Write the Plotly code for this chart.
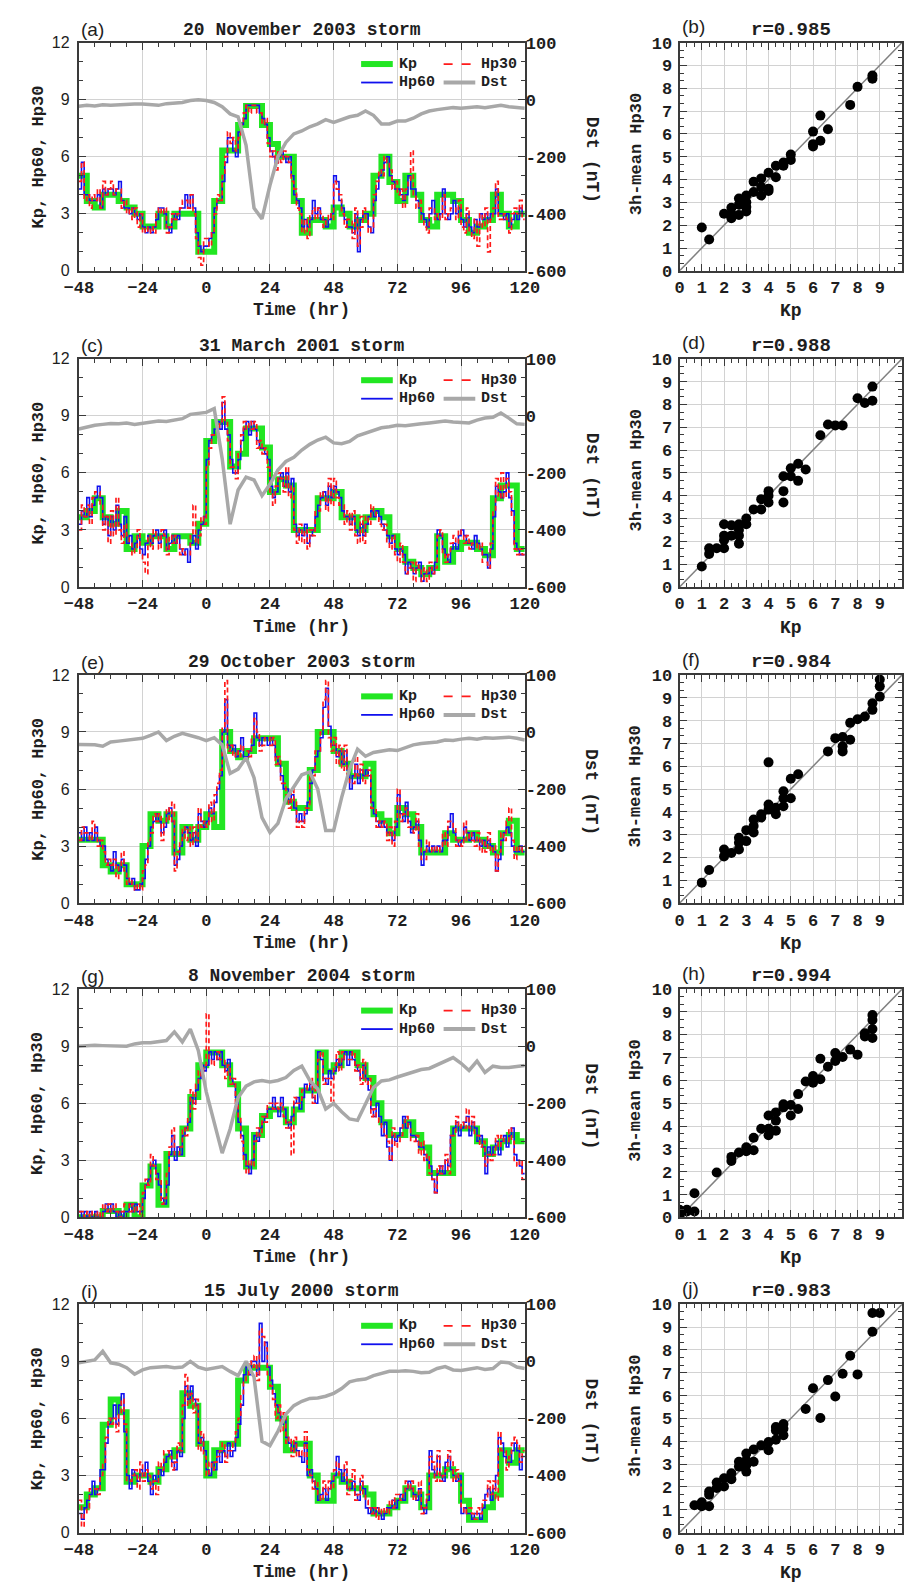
import plotly.graph_objects as go

# ---------------- data ----------------
STORM_TITLES = ["20 November 2003 storm", "31 March 2001 storm", "29 October 2003 storm",
                "8 November 2004 storm", "15 July 2000 storm"]
LEFT_LABELS = ["(a)", "(c)", "(e)", "(g)", "(i)"]
RIGHT_LABELS = ["(b)", "(d)", "(f)", "(h)", "(j)"]
R_TEXTS = ["r=0.985", "r=0.988", "r=0.984", "r=0.994", "r=0.983"]

T_START = -48          # hours
KP_DT, HP60_DT, HP30_DT, DST_DT = 3, 1, 1, 3

X_TICK0, X_DTICK, X_MINOR = -48, 24, 6
X_RANGE = [-48, 120]
KP_RANGE, KP_DTICK = [0, 12], 3
DST_RANGE = [-600, 200]
DST_TICKVALS = [-600, -400, -200, 0, 200]
DST_TICKTEXT = ["-600", "-400", "-200", "0", "100"]
SC_RANGE = [0, 10]
SC_XTICKVALS = [0, 1, 2, 3, 4, 5, 6, 7, 8, 9]
SC_YTICKVALS = [0, 1, 2, 3, 4, 5, 6, 7, 8, 9, 10]

# ---- panel (a)/(b): 20 November 2003 ----
KP_A = [5.0, 3.67, 3.33, 4.0, 4.0, 3.67, 3.33, 3.0, 2.33, 2.33, 3.0, 2.33, 3.0, 3.0, 3.0, 1.0, 1.0, 3.67,
        6.33, 6.33, 7.67, 8.67, 8.67, 7.67, 6.67, 6.0, 6.0, 3.67, 2.0, 2.67, 2.67, 2.33, 3.33, 3.0, 2.33,
        2.67, 3.0, 5.0, 6.0, 4.67, 3.67, 5.0, 4.0, 2.67, 2.33, 4.0, 4.0, 3.67, 2.67, 2.0, 2.33, 2.67, 4.0,
        3.0, 2.33, 3.0]
HP60_A = [4.3, 5.7, 4.0, 4.0, 3.7, 3.7, 3.7, 4.0, 3.3, 4.3, 4.0, 4.3, 4.3, 4.0, 4.3, 4.7, 3.7, 3.3, 3.3, 3.0, 3.3, 3.0, 2.7, 3.0,
          2.3, 2.0, 2.3, 2.0, 2.3, 2.7, 3.3, 3.3, 3.0, 2.3, 2.0, 2.7, 3.0, 2.7, 3.3, 3.3, 4.0, 3.3, 4.0, 3.3, 2.0, 1.3, 1.0, 1.3,
          1.3, 1.7, 2.0, 3.3, 3.7, 3.7, 4.7, 5.7, 7.0, 7.0, 6.3, 6.0, 7.3, 7.7, 8.0, 8.7, 8.7, 8.7, 8.7, 8.7, 8.3, 8.0, 7.7, 7.0,
          6.3, 6.0, 5.7, 6.0, 6.3, 6.0, 5.7, 6.0, 5.0, 4.0, 3.7, 3.3, 2.3, 2.7, 2.3, 2.7, 3.7, 3.0, 3.3, 2.7, 2.7, 2.3, 2.7, 3.0,
          5.0, 4.7, 3.7, 3.3, 2.7, 2.3, 2.3, 2.0, 3.0, 1.0, 2.7, 3.0, 3.0, 2.3, 2.0, 3.7, 4.3, 5.0, 5.3, 5.7, 6.0, 5.0, 4.7, 4.3,
          4.3, 4.0, 3.7, 4.0, 5.0, 4.3, 4.3, 3.7, 3.3, 3.0, 2.7, 2.3, 3.0, 3.7, 3.0, 2.7, 3.0, 4.3, 3.0, 2.7, 3.0, 3.7, 3.0, 3.3,
          2.7, 2.3, 3.0, 2.3, 2.0, 2.7, 2.3, 3.0, 2.7, 3.0, 2.7, 3.0, 3.0, 4.3, 3.0, 3.0, 2.7, 3.0, 2.3, 2.7, 3.0, 2.7, 3.3, 3.0]
HP30_A = [4.7, 5.7, 3.7, 4.0, 3.3, 4.0, 3.7, 4.3, 3.3, 4.7, 4.0, 4.3, 4.7, 4.0, 4.3, 4.3, 3.3, 3.7, 3.0, 3.3, 2.7, 3.3, 2.3, 3.0,
          2.0, 2.3, 2.0, 2.3, 2.0, 3.0, 3.3, 3.0, 3.3, 2.0, 2.3, 3.0, 2.7, 3.0, 3.3, 3.7, 3.7, 3.3, 4.0, 3.0, 1.7, 0.7, 0.3, 1.7,
          1.7, 1.3, 2.0, 3.0, 4.0, 3.7, 5.0, 6.0, 7.3, 6.7, 7.0, 6.3, 7.0, 7.7, 8.3, 8.7, 8.3, 8.7, 8.7, 8.3, 8.3, 7.7, 8.0, 6.7,
          6.0, 6.3, 5.3, 6.3, 5.7, 6.3, 6.0, 5.7, 4.7, 4.3, 3.3, 3.0, 2.0, 2.7, 1.7, 3.0, 3.3, 2.7, 3.3, 3.0, 2.3, 2.7, 3.0, 2.7,
          4.7, 4.3, 4.0, 3.0, 2.3, 2.7, 2.7, 1.7, 3.3, 1.3, 2.3, 3.3, 2.7, 2.0, 2.3, 4.0, 4.7, 5.3, 5.0, 6.0, 5.7, 5.3, 4.3, 4.7,
          4.0, 4.3, 3.3, 4.3, 4.7, 6.3, 4.0, 3.3, 3.7, 2.7, 2.3, 2.0, 3.3, 3.3, 2.7, 3.0, 2.7, 4.0, 2.7, 3.0, 3.3, 3.3, 2.7, 3.7,
          2.3, 2.0, 3.3, 2.0, 1.7, 2.7, 1.3, 3.0, 2.3, 3.3, 1.0, 2.7, 3.3, 4.7, 2.7, 2.7, 3.0, 2.7, 2.0, 3.0, 3.3, 3.0, 3.7, 2.7]
DST_A = [-23, -20, -22, -18, -20, -18, -15, -15, -15, -18, -20, -14, -12, -10, -3, 0, -3, -10, -25, -50,
         -60, -160, -380, -418, -300, -200, -150, -120, -110, -95, -85, -70, -80, -70, -60, -55, -40, -55,
         -85, -85, -75, -75, -65, -50, -40, -35, -30, -28, -30, -28, -25, -28, -25, -20, -25, -28, -30]
SCX_B = [1.0, 1.33, 2.0, 2.33, 2.33, 2.33, 2.67, 2.67, 2.67, 3.0, 3.0, 3.0, 3.0, 3.33, 3.33, 3.67, 3.67, 3.67,
         4.0, 4.0, 4.0, 4.33, 4.33, 4.67, 4.67, 5.0, 5.0, 6.0, 6.0, 6.0, 6.33, 6.33, 6.67, 7.67, 8.0, 8.67, 8.67]
SCY_B = [1.9, 1.37, 2.5, 2.76, 2.3, 2.5, 3.17, 2.9, 2.45, 3.3, 3.0, 2.8, 2.6, 3.9, 3.45, 4.05, 3.67, 3.3,
         4.3, 3.6, 3.5, 4.6, 4.1, 4.75, 4.6, 5.1, 4.86, 6.1, 5.55, 5.45, 6.8, 5.7, 6.2, 7.27, 8.06, 8.42, 8.56]

# ---- panel (c)/(d): 31 March 2001 ----
KP_C = [3.67, 4.0, 4.67, 3.67, 3.33, 4.0, 2.0, 2.67, 2.33, 2.67, 2.67, 2.0, 2.67, 2.67, 2.33, 3.33, 7.67,
        8.67, 8.67, 6.33, 7.0, 8.33, 8.33, 7.33, 5.0, 5.67, 5.33, 3.0, 3.0, 3.0, 4.67, 4.67, 5.0, 3.67, 3.67,
        3.0, 3.67, 4.0, 3.67, 2.67, 2.0, 1.33, 1.0, 0.67, 1.0, 2.67, 1.33, 2.0, 2.33, 2.33, 2.0, 1.67, 4.67,
        5.33, 5.33, 2.0]
HP60_C = [3.3, 4.0, 3.7, 4.7, 3.7, 4.3, 4.7, 5.3, 4.7, 3.3, 3.7, 2.7, 3.7, 3.0, 4.3, 3.3, 2.7, 3.7, 2.3, 2.7, 2.0, 2.3, 2.7, 2.0,
          1.7, 2.3, 2.7, 2.3, 2.7, 3.0, 2.3, 2.7, 3.0, 2.0, 2.3, 2.7, 2.3, 2.7, 2.0, 1.7, 2.0, 1.3, 2.3, 2.7, 2.0, 3.0, 3.3, 3.7,
          6.7, 7.7, 8.0, 8.3, 8.7, 8.3, 9.7, 8.3, 8.0, 6.7, 6.0, 6.0, 6.7, 7.7, 8.3, 8.7, 8.0, 8.7, 8.3, 7.7, 7.3, 7.3, 7.0, 6.7,
          5.3, 4.7, 5.0, 5.7, 6.0, 5.3, 6.0, 5.0, 5.7, 3.3, 2.7, 3.0, 2.7, 3.3, 2.3, 2.7, 3.0, 3.7, 4.3, 4.7, 5.0, 4.3, 5.3, 4.7,
          5.3, 5.0, 4.7, 4.0, 3.7, 3.7, 3.3, 3.7, 3.0, 2.7, 3.3, 2.7, 3.3, 3.7, 4.0, 3.7, 4.0, 3.7, 3.3, 3.0, 2.7, 2.3, 2.7, 2.0,
          1.7, 2.0, 1.7, 0.7, 1.3, 1.0, 0.7, 1.0, 1.3, 0.3, 0.7, 0.7, 1.0, 0.7, 1.3, 3.0, 2.7, 2.0, 1.7, 1.3, 2.0, 2.3, 2.0, 2.7,
          3.0, 2.7, 2.3, 2.3, 2.0, 2.7, 2.3, 2.0, 1.7, 1.7, 1.0, 2.0, 3.7, 5.3, 5.0, 4.7, 5.0, 6.0, 4.7, 4.0, 2.3, 2.0, 1.7, 1.7]
HP30_C = [3.0, 4.3, 3.7, 4.3, 3.3, 4.7, 5.0, 5.0, 4.3, 3.0, 3.7, 2.3, 4.0, 2.7, 4.7, 3.0, 2.3, 3.3, 2.7, 2.3, 1.7, 2.0, 3.0, 1.7,
          1.3, 0.7, 2.7, 2.0, 3.0, 2.7, 2.0, 3.0, 2.7, 1.7, 2.7, 2.3, 2.7, 2.3, 1.7, 2.0, 1.7, 1.7, 2.7, 4.3, 2.3, 2.7, 3.7, 3.3,
          6.3, 7.3, 8.0, 8.0, 8.3, 8.7, 10.0, 8.7, 7.7, 6.3, 6.3, 5.7, 7.0, 8.0, 8.7, 8.3, 8.7, 8.3, 8.7, 7.3, 7.7, 7.0, 7.3, 6.3,
          5.0, 4.3, 5.3, 6.0, 5.7, 5.0, 6.3, 4.7, 5.3, 3.0, 2.3, 3.3, 2.3, 3.0, 2.0, 3.0, 2.7, 4.0, 4.0, 5.0, 4.7, 4.0, 5.7, 4.3,
          5.7, 4.7, 4.3, 4.3, 3.3, 4.0, 3.0, 4.0, 2.7, 2.3, 3.7, 2.3, 3.7, 3.3, 4.3, 4.0, 3.7, 3.3, 3.0, 3.3, 2.3, 2.0, 2.7, 1.7,
          1.3, 2.3, 1.3, 0.7, 1.0, 1.3, 0.3, 1.3, 1.0, 0.3, 1.0, 0.3, 1.3, 0.7, 1.0, 2.7, 3.0, 1.7, 1.3, 1.7, 2.3, 2.7, 2.3, 3.0,
          2.7, 2.3, 2.7, 2.0, 2.3, 2.3, 2.0, 2.3, 1.3, 1.3, 1.0, 2.3, 4.0, 5.7, 4.7, 6.0, 4.7, 5.7, 5.0, 3.7, 2.0, 1.7, 2.0, 1.7]
DST_C = [-46, -38, -33, -30, -27, -28, -25, -30, -25, -20, -18, -20, -15, -10, 5, 8, 12, 25, -150, -380,
         -260, -215, -225, -280, -240, -190, -160, -145, -120, -100, -85, -75, -95, -98, -90, -70, -60, -50,
         -42, -38, -33, -35, -30, -28, -25, -22, -18, -22, -25, -25, -15, -8, -5, 10, -8, -28, -30]
SCX_D = [1.0, 1.33, 1.33, 1.67, 2.0, 2.0, 2.0, 2.0, 2.33, 2.33, 2.67, 2.67, 2.67, 2.67, 3.0, 3.0, 3.33, 3.67,
         3.67, 4.0, 4.0, 4.0, 4.67, 4.67, 4.67, 5.0, 5.0, 5.33, 5.33, 5.67, 6.33, 6.67, 7.0, 7.33, 8.0, 8.33,
         8.67, 8.67]
SCY_D = [0.9, 1.7, 1.45, 1.7, 2.75, 2.25, 1.7, 2.05, 2.7, 2.25, 2.5, 1.9, 2.75, 2.25, 3.0, 2.75, 3.4, 3.85,
         3.4, 4.2, 3.7, 4.0, 4.85, 4.2, 3.7, 5.2, 4.85, 5.4, 4.65, 5.15, 6.65, 7.12, 7.08, 7.08, 8.27, 8.06,
         8.16, 8.78]

# ---- panel (e)/(f): 29 October 2003 ----
KP_E = [3.33, 3.33, 3.33, 2.0, 1.67, 2.0, 1.0, 1.0, 3.0, 4.67, 4.33, 4.67, 2.67, 4.0, 3.33, 4.0, 4.67, 4.0,
        9.0, 8.0, 7.67, 8.0, 8.67, 8.67, 8.67, 7.33, 5.33, 5.0, 5.0, 7.0, 9.0, 9.0, 8.0, 7.33, 6.67, 6.67,
        7.33, 4.67, 4.33, 3.67, 5.0, 4.67, 4.0, 2.67, 2.67, 2.67, 3.67, 3.33, 3.33, 3.67, 3.33, 3.0, 2.67,
        3.67, 4.33, 2.67]
HP60_E = [3.7, 3.3, 4.0, 3.3, 3.7, 3.3, 4.0, 3.3, 3.0, 3.0, 2.3, 2.0, 1.7, 2.7, 2.0, 1.7, 2.3, 2.0, 1.3, 1.0, 1.3, 0.7, 0.7, 1.0,
          1.3, 2.3, 3.0, 4.0, 4.3, 4.7, 4.3, 3.7, 4.0, 4.7, 5.0, 4.3, 2.0, 2.3, 3.0, 3.7, 4.0, 3.7, 3.3, 3.7, 3.0, 4.7, 4.3, 4.0,
          4.3, 5.0, 4.7, 5.3, 6.0, 6.7, 9.0, 10.7, 8.3, 8.0, 8.3, 7.7, 8.0, 8.7, 7.7, 7.7, 8.0, 8.3, 10.0, 8.7, 8.3, 8.7, 8.7, 8.3,
          8.7, 8.3, 7.7, 7.3, 6.7, 6.0, 6.0, 5.3, 5.7, 5.0, 4.3, 4.7, 4.3, 4.7, 5.3, 6.3, 7.0, 7.7, 8.0, 8.7, 10.3, 11.3, 9.3, 8.3,
          8.3, 7.7, 8.0, 7.3, 8.0, 7.0, 6.0, 6.7, 7.3, 6.3, 7.0, 6.7, 7.0, 6.7, 5.3, 4.7, 4.3, 4.0, 4.3, 4.0, 3.7, 3.7, 3.3, 4.0,
          5.7, 4.7, 4.3, 5.3, 4.3, 3.7, 4.0, 4.3, 3.3, 2.0, 2.7, 3.0, 2.7, 3.0, 2.7, 3.0, 2.7, 3.3, 3.3, 4.0, 4.7, 3.7, 3.3, 3.0,
          3.3, 4.0, 3.7, 3.3, 3.7, 3.3, 3.3, 3.0, 3.3, 3.0, 3.3, 3.0, 2.7, 1.7, 2.3, 3.3, 3.7, 4.0, 3.7, 3.0, 2.7, 2.7, 3.0, 2.7]
HP30_E = [3.3, 4.0, 3.7, 3.7, 3.3, 4.3, 3.7, 3.0, 3.3, 2.7, 2.0, 2.3, 2.0, 2.3, 1.3, 2.0, 2.7, 1.7, 1.0, 1.3, 1.0, 0.7, 1.0, 0.7,
          1.7, 2.0, 3.3, 3.7, 4.7, 4.3, 4.7, 3.3, 4.3, 5.0, 4.3, 5.3, 1.7, 2.7, 3.3, 4.0, 3.3, 4.0, 3.0, 4.0, 3.3, 5.0, 4.0, 4.3,
          4.0, 5.3, 4.3, 5.7, 6.3, 7.0, 9.3, 11.7, 8.0, 8.3, 7.7, 8.0, 7.7, 8.3, 8.0, 8.0, 7.7, 8.7, 9.7, 9.0, 8.0, 8.3, 8.7, 8.7,
          8.3, 8.7, 7.3, 7.7, 6.3, 6.3, 5.7, 5.0, 6.0, 5.3, 4.0, 4.3, 4.0, 5.0, 5.0, 6.7, 6.7, 8.0, 8.0, 9.0, 10.7, 11.7, 8.7, 8.0,
          8.7, 7.3, 8.3, 7.0, 8.3, 6.7, 6.3, 6.3, 7.7, 6.7, 7.3, 6.3, 6.7, 7.0, 5.0, 5.0, 4.0, 4.3, 4.0, 4.3, 3.3, 4.0, 3.0, 4.3,
          6.0, 4.3, 4.7, 5.0, 4.0, 4.0, 3.7, 4.7, 3.0, 2.3, 2.3, 3.3, 3.0, 2.7, 3.0, 2.7, 3.0, 3.7, 3.0, 4.3, 4.3, 4.0, 3.0, 3.3,
          3.0, 4.3, 3.3, 3.7, 3.3, 3.0, 3.7, 2.7, 3.3, 2.7, 3.7, 2.7, 3.0, 1.7, 2.7, 3.7, 3.3, 4.3, 5.0, 3.3, 2.3, 3.0, 2.7, 3.0]
DST_E = [-44, -45, -45, -50, -35, -32, -28, -26, -22, -12, 0, -30, -15, -5, -12, -20, -30, -20, -45, -145,
         -130, -90, -160, -300, -352, -320, -235, -190, -150, -140, -200, -345, -345, -230, -130, -60, -85, -72,
         -68, -62, -65, -55, -45, -40, -38, -35, -28, -30, -25, -22, -25, -20, -22, -20, -18, -22, -28]
SCX_F = [1.0, 1.33, 2.0, 2.0, 2.33, 2.67, 2.67, 2.67, 3.0, 3.0, 3.33, 3.33, 3.33, 3.67, 3.67, 4.0, 4.0, 4.0,
         4.33, 4.33, 4.67, 4.67, 4.67, 5.0, 5.0, 5.33, 6.67, 7.0, 7.33, 7.33, 7.33, 7.67, 7.67, 8.0, 8.33, 8.67,
         8.67, 9.0, 9.0, 9.0]
SCY_F = [0.9, 1.45, 2.35, 2.05, 2.2, 2.87, 2.65, 2.35, 3.2, 2.72, 3.67, 3.38, 3.1, 3.9, 3.75, 4.32, 4.1, 6.17,
         3.9, 4.18, 4.9, 4.6, 4.25, 5.45, 4.6, 5.65, 6.65, 7.23, 7.28, 6.87, 6.65, 7.16, 7.9, 8.06, 8.18, 8.47,
         8.76, 9.05, 9.5, 9.8]

# ---- panel (g)/(h): 8 November 2004 ----
KP_G = [0.0, 0.0, 0.0, 0.33, 0.33, 0.0, 0.67, 0.0, 1.67, 2.67, 0.67, 3.33, 3.33, 4.67, 6.33, 8.0, 8.67, 8.67,
        8.0, 7.0, 4.67, 2.67, 4.33, 5.33, 5.67, 5.67, 5.0, 5.67, 6.67, 6.67, 8.67, 7.67, 8.0, 8.67, 8.67, 8.0,
        7.33, 6.0, 5.0, 4.33, 4.33, 5.0, 4.33, 3.67, 2.33, 2.33, 2.33, 4.67, 4.67, 4.67, 4.0, 3.33, 3.67, 4.0,
        4.33, 4.0]
HP60_G = [0.3, 0.0, 0.3, 0.0, 0.3, 0.0, 0.3, 0.0, 0.0, 0.3, 0.7, 0.3, 0.7, 0.3, 0.0, 0.3, 0.0, 0.3, 0.3, 0.7, 0.3, 0.7, 0.3, 0.3,
          1.0, 1.7, 2.0, 2.7, 3.0, 2.3, 1.7, 1.0, 0.7, 1.7, 3.3, 4.3, 3.0, 3.7, 3.3, 4.3, 4.7, 5.0, 6.3, 6.0, 6.7, 7.3, 8.0, 7.7,
          8.0, 8.7, 8.3, 8.7, 8.3, 8.7, 8.0, 7.7, 8.3, 7.3, 7.0, 6.3, 5.0, 4.3, 3.3, 2.7, 2.3, 3.0, 4.3, 4.0, 4.7, 5.0, 5.3, 5.7,
          5.7, 6.3, 5.7, 5.3, 6.3, 5.7, 5.0, 4.7, 5.3, 6.0, 6.3, 5.7, 6.3, 7.0, 6.7, 7.0, 6.3, 6.0, 8.7, 8.3, 7.3, 7.0, 7.7, 7.3,
          7.7, 8.3, 8.0, 8.3, 8.7, 8.0, 8.7, 8.3, 8.0, 7.7, 7.3, 8.0, 7.3, 6.7, 5.7, 5.3, 6.0, 5.3, 4.3, 5.0, 3.7, 3.0, 4.3, 4.0,
          4.3, 4.7, 5.3, 4.7, 5.0, 4.3, 4.3, 4.0, 3.7, 3.7, 3.3, 3.0, 2.7, 2.0, 1.3, 2.3, 2.7, 2.3, 3.0, 2.7, 4.3, 4.7, 5.0, 4.3,
          4.7, 5.0, 5.3, 4.3, 5.0, 4.7, 4.0, 4.3, 3.7, 2.3, 3.7, 3.3, 3.7, 4.0, 3.3, 4.0, 4.3, 3.7, 4.3, 4.7, 3.3, 3.0, 2.7, 2.3]
HP30_G = [0.3, 0.3, 0.0, 0.3, 0.0, 0.3, 0.0, 0.3, 0.0, 0.7, 0.3, 0.7, 0.3, 0.7, 0.3, 0.0, 0.3, 0.7, 0.7, 0.3, 0.7, 0.3, 0.7, 0.0,
          1.3, 2.0, 1.7, 3.3, 2.7, 2.0, 2.0, 0.7, 1.0, 2.3, 3.7, 4.7, 3.3, 3.3, 3.7, 4.7, 4.3, 5.3, 6.7, 5.7, 7.0, 7.7, 7.3, 8.0,
          10.7, 8.3, 8.0, 8.3, 8.7, 8.3, 8.3, 7.3, 8.0, 7.0, 7.3, 6.0, 5.3, 4.0, 3.0, 2.3, 3.0, 2.7, 4.0, 4.7, 4.3, 5.3, 5.0, 6.0,
          6.0, 5.7, 6.0, 5.7, 6.0, 5.3, 4.7, 5.0, 3.3, 6.3, 6.0, 6.0, 6.7, 6.7, 7.0, 7.3, 6.0, 6.7, 8.3, 8.7, 7.0, 7.3, 7.3, 6.0,
          8.0, 8.7, 7.7, 8.7, 8.3, 8.3, 8.3, 8.7, 7.7, 8.0, 7.0, 8.3, 7.0, 7.3, 5.3, 5.7, 5.3, 5.0, 4.7, 4.3, 4.0, 3.0, 4.7, 3.7,
          4.0, 4.3, 5.0, 5.3, 4.7, 4.0, 4.0, 4.3, 3.3, 4.0, 3.0, 3.3, 2.3, 2.0, 1.3, 2.7, 2.3, 2.7, 3.3, 2.3, 4.3, 4.3, 5.3, 4.7,
          5.0, 4.7, 5.7, 4.7, 5.3, 4.3, 4.3, 3.7, 4.0, 2.7, 3.3, 3.0, 3.3, 4.3, 3.7, 4.3, 4.0, 4.0, 4.7, 4.0, 3.0, 2.7, 3.0, 2.0]
DST_G = [0, 2, 3, 2, 2, 3, 0, 8, 12, 12, 15, 20, 50, 15, 60, -15, -160, -270, -375, -290, -180, -140, -125,
         -120, -125, -120, -110, -85, -70, -120, -150, -220, -200, -230, -255, -260, -200, -145, -122, -118,
         -108, -100, -92, -82, -78, -65, -55, -40, -60, -85, -52, -92, -70, -75, -75, -70, -68]
SCX_H = [0.0, 0.0, 0.0, 0.33, 0.33, 0.67, 0.67, 1.67, 2.33, 2.33, 2.67, 3.0, 3.0, 3.33, 3.33, 3.67, 4.0, 4.0,
         4.0, 4.33, 4.33, 4.33, 4.67, 4.67, 5.0, 5.0, 5.33, 5.33, 5.67, 6.0, 6.0, 6.33, 6.33, 6.67, 7.0, 7.0,
         7.33, 7.67, 8.0, 8.33, 8.33, 8.67, 8.67, 8.67, 8.67]
SCY_H = [0.2, 0.33, 0.05, 0.26, 0.33, 1.06, 0.26, 1.97, 2.65, 2.47, 2.84, 3.07, 2.9, 2.94, 3.49, 3.88, 4.46,
         3.6, 3.88, 4.6, 4.24, 3.8, 4.96, 4.82, 4.92, 4.46, 5.4, 4.75, 5.95, 6.19, 5.9, 6.05, 6.95, 6.6, 7.2,
         6.85, 7.03, 7.35, 7.13, 8.07, 7.93, 8.87, 8.65, 8.25, 7.86]

# ---- panel (i)/(j): 15 July 2000 ----
KP_I = [1.33, 2.0, 2.33, 5.67, 7.0, 6.33, 2.67, 3.0, 3.0, 2.67, 3.33, 4.0, 4.33, 7.33, 6.67, 4.67, 3.0, 4.33,
        4.67, 4.67, 8.0, 8.67, 8.67, 8.67, 7.67, 6.0, 4.33, 4.67, 4.67, 3.0, 1.67, 1.67, 3.0, 2.67, 2.33, 2.33,
        2.0, 1.0, 1.0, 1.33, 1.67, 2.33, 2.0, 1.33, 3.0, 3.0, 3.33, 3.0, 1.67, 0.67, 0.67, 1.33, 2.0, 4.33,
        3.67, 4.33]
HP60_I = [1.0, 0.7, 1.3, 1.7, 2.0, 2.7, 2.0, 2.3, 3.3, 3.3, 4.7, 5.7, 6.0, 6.7, 5.7, 6.7, 7.3, 5.3, 3.0, 2.3, 3.3, 3.0, 2.7, 3.3,
          3.0, 3.7, 2.7, 2.0, 3.0, 2.7, 3.3, 3.0, 3.7, 4.0, 4.3, 3.7, 3.3, 4.3, 4.0, 6.0, 7.7, 7.0, 7.7, 7.0, 6.7, 4.7, 5.0, 4.3,
          3.3, 3.0, 3.7, 3.3, 4.3, 3.7, 4.3, 4.0, 4.7, 4.0, 4.3, 5.0, 5.7, 6.7, 8.3, 8.7, 8.3, 9.0, 9.0, 8.3, 11.0, 9.0, 10.0, 8.7,
          8.0, 7.3, 6.7, 6.3, 5.7, 6.0, 5.0, 4.7, 4.3, 4.7, 4.3, 4.0, 3.7, 4.7, 3.0, 3.3, 2.7, 2.3, 1.7, 2.0, 2.3, 1.7, 2.3, 2.7,
          3.0, 4.0, 3.3, 2.7, 3.3, 2.3, 2.3, 2.7, 2.0, 1.7, 2.7, 2.3, 1.3, 1.0, 1.3, 1.0, 1.3, 1.0, 0.7, 1.0, 1.3, 1.3, 1.7, 1.3,
          1.7, 2.0, 1.7, 2.3, 2.7, 2.3, 2.0, 1.7, 2.3, 1.3, 1.0, 1.7, 4.3, 3.3, 3.0, 4.0, 3.0, 2.7, 3.7, 4.0, 3.3, 3.0, 2.7, 3.0,
          1.0, 1.3, 1.0, 1.0, 0.7, 1.0, 1.0, 0.7, 1.3, 2.0, 2.3, 1.7, 2.3, 3.0, 5.0, 4.7, 4.0, 3.7, 3.7, 4.3, 4.7, 4.3, 3.3, 4.0]
HP30_I = [1.7, 0.3, 1.0, 1.3, 2.3, 2.3, 2.3, 2.0, 3.0, 3.7, 5.0, 6.0, 5.7, 6.0, 5.3, 6.3, 7.0, 5.7, 2.7, 2.7, 3.0, 3.3, 2.3, 3.7,
          2.7, 3.3, 3.0, 2.3, 2.7, 2.0, 3.7, 3.3, 4.3, 4.3, 4.0, 3.3, 3.7, 4.7, 4.3, 6.7, 8.3, 6.7, 7.3, 6.3, 7.0, 4.3, 5.3, 4.0,
          3.0, 3.7, 3.3, 3.7, 4.0, 4.3, 4.7, 3.7, 4.3, 4.3, 4.7, 5.3, 6.0, 7.3, 8.0, 8.3, 9.0, 8.7, 9.3, 8.0, 10.7, 10.3, 9.7, 8.3,
          7.7, 7.0, 6.0, 6.7, 5.3, 6.3, 4.7, 5.0, 4.0, 5.0, 4.0, 4.3, 4.0, 5.3, 3.3, 3.0, 2.3, 2.7, 2.0, 1.7, 2.7, 2.0, 2.7, 2.3,
          3.3, 3.7, 3.0, 3.0, 3.7, 2.0, 2.7, 3.3, 1.7, 2.0, 3.0, 2.0, 1.7, 1.3, 1.0, 1.3, 0.7, 1.3, 1.0, 1.3, 1.0, 1.7, 1.3, 2.0,
          2.0, 1.7, 2.0, 2.7, 2.3, 2.7, 1.7, 2.0, 2.7, 1.0, 1.3, 2.0, 4.0, 3.7, 2.7, 4.3, 2.7, 3.0, 3.3, 4.3, 3.7, 2.7, 3.3, 2.7,
          1.3, 1.0, 1.3, 1.3, 1.0, 0.7, 1.3, 1.0, 1.7, 1.7, 2.7, 2.0, 2.7, 1.7, 5.3, 4.3, 4.3, 3.3, 4.0, 4.7, 5.0, 4.7, 3.7, 4.3]
DST_I = [-5, 0, 5, 35, -5, -10, -22, -45, -30, -22, -20, -18, -22, -20, 0, -20, -28, -22, -18, -35, -50, 0,
         -55, -280, -295, -245, -185, -155, -140, -130, -128, -122, -112, -95, -72, -65, -62, -50, -42, -35,
         -35, -33, -35, -40, -38, -25, -18, -30, -32, -28, -22, -28, -25, -2, -5, -20, -25]
SCX_J = [0.67, 1.0, 1.0, 1.33, 1.33, 1.33, 1.67, 1.67, 2.0, 2.0, 2.33, 2.33, 2.67, 2.67, 3.0, 3.0, 3.0, 3.0,
         3.33, 3.33, 3.67, 4.0, 4.0, 4.33, 4.33, 4.33, 4.67, 4.67, 4.67, 5.67, 6.0, 6.33, 6.67, 7.0, 7.33, 7.67,
         8.0, 8.67, 8.67, 9.0]
SCY_J = [1.2, 1.33, 1.15, 1.15, 1.8, 1.66, 2.19, 1.95, 2.38, 2.02, 2.6, 2.34, 3.1, 2.89, 3.46, 3.17, 2.96,
         2.67, 3.64, 3.1, 3.82, 3.97, 3.61, 4.07, 4.62, 4.47, 4.76, 4.55, 4.26, 5.41, 6.32, 5.02, 6.68, 5.96,
         6.96, 7.75, 6.93, 8.8, 9.62, 9.62]

ROWS = [
    (KP_A, HP60_A, HP30_A, DST_A, SCX_B, SCY_B),
    (KP_C, HP60_C, HP30_C, DST_C, SCX_D, SCY_D),
    (KP_E, HP60_E, HP30_E, DST_E, SCX_F, SCY_F),
    (KP_G, HP60_G, HP30_G, DST_G, SCX_H, SCY_H),
    (KP_I, HP60_I, HP30_I, DST_I, SCX_J, SCY_J),
]

# ---------------- styling / layout ----------------
W, H = 918, 1590
ROW_TOP = [35, 355, 675, 993, 1312]
PH = 231
LX0, LX1 = 66, 527
SX0, SX1 = 687, 917

MONO = "Liberation Mono"
SANS = "Liberation Sans"
TXT = "#1e1e1e"
GRID = "#d2d2d2"
FRAME = "#3a3a3a"
C_KP, C_H60, C_H30, C_DST = "#22e622", "#1010ee", "#ff1a1a", "#a8a8a8"


def steps(vals, dt):
    t = [T_START + dt * i for i in range(len(vals) + 1)]
    return t, list(vals) + [vals[-1]]


def times(vals, dt):
    return [T_START + dt * i for i in range(len(vals))]


def an(n, p):
    return p if n == 1 else f"{p}{n}"


def lk(n, p):
    return f"{p}axis" if n == 1 else f"{p}axis{n}"


def mono(size):
    return dict(family=MONO, size=size, color=TXT, weight="bold")


fig = go.Figure()
layout = {}
annotations = []
shapes = []

frame = dict(showline=True, linecolor=FRAME, linewidth=2, mirror="ticks", ticks="inside",
             ticklen=7, tickwidth=1.2, tickcolor=FRAME, showgrid=True, gridcolor=GRID, gridwidth=1,
             zeroline=False)
minor_base = dict(ticks="inside", ticklen=4, tickwidth=1, tickcolor=FRAME, showgrid=False)

for r, (kp, h60, h30, dst, scx, scy) in enumerate(ROWS):
    top = ROW_TOP[r]
    bot = top + PH
    ydom = [1 - bot / H, 1 - top / H]
    nl, nd, ns = 3 * r + 1, 3 * r + 2, 3 * r + 3
    xl, yl, yd, xs, ys = an(nl, "x"), an(nl, "y"), an(nd, "y"), an(ns, "x"), an(ns, "y")

    # time-series traces
    t, v = steps(kp, KP_DT)
    fig.add_trace(go.Scatter(x=t, y=v, mode="lines", line=dict(color=C_KP, width=6, shape="hv"),
                             xaxis=xl, yaxis=yl, hoverinfo="skip"))
    t, v = steps(h60, HP60_DT)
    fig.add_trace(go.Scatter(x=t, y=v, mode="lines", line=dict(color=C_H60, width=1.6, shape="hv"),
                             xaxis=xl, yaxis=yl, hoverinfo="skip"))
    t, v = steps(h30, HP30_DT)
    fig.add_trace(go.Scatter(x=t, y=v, mode="lines",
                             line=dict(color=C_H30, width=1.7, shape="hv", dash="5px,3px"),
                             xaxis=xl, yaxis=yl, hoverinfo="skip"))
    fig.add_trace(go.Scatter(x=times(dst, DST_DT), y=dst, mode="lines",
                             line=dict(color=C_DST, width=3.5), xaxis=xl, yaxis=yd, hoverinfo="skip"))

    # scatter traces
    fig.add_trace(go.Scatter(x=SC_RANGE, y=SC_RANGE, mode="lines", line=dict(color="#808080", width=1.5),
                             xaxis=xs, yaxis=ys, hoverinfo="skip"))
    fig.add_trace(go.Scatter(x=scx, y=scy, mode="markers", marker=dict(color="black", size=10),
                             xaxis=xs, yaxis=ys, hoverinfo="skip"))

    # axes
    layout[lk(nl, "x")] = dict(frame, domain=[LX0 / W, LX1 / W], anchor=yl, range=X_RANGE,
                               tickmode="linear", tick0=X_TICK0, dtick=X_DTICK,
                               minor=dict(minor_base, tick0=X_TICK0, dtick=X_MINOR),
                               tickfont=mono(17))
    layout[lk(nl, "y")] = dict(frame, domain=ydom, anchor=xl, range=KP_RANGE,
                               tickmode="linear", tick0=0, dtick=KP_DTICK, ticklabelstandoff=4,
                               minor=dict(minor_base, tick0=0, dtick=1),
                               tickfont=dict(family=SANS, size=16, color=TXT))
    layout[lk(nd, "y")] = dict(overlaying=yl, side="right", anchor=xl, range=DST_RANGE,
                               tickmode="array", tickvals=DST_TICKVALS, ticktext=DST_TICKTEXT,
                               showgrid=False, showline=False, ticks="", zeroline=False,
                               tickfont=mono(17))
    layout[lk(ns, "x")] = dict(frame, domain=[SX0 / W, SX1 / W], anchor=ys, range=SC_RANGE,
                               tickmode="array", tickvals=SC_XTICKVALS,
                               minor=dict(minor_base, tickmode="linear", tick0=0, dtick=1 / 3),
                               tickfont=mono(17))
    layout[lk(ns, "y")] = dict(frame, domain=ydom, anchor=xs, range=SC_RANGE,
                               tickmode="array", tickvals=SC_YTICKVALS, ticklabelstandoff=2,
                               minor=dict(minor_base, tickmode="linear", tick0=0, dtick=1 / 3),
                               tickfont=mono(17))

    def py(px):
        return 1 - px / H

    annotations += [
        dict(text=LEFT_LABELS[r], x=LX0 / W, y=py(top - 13), xanchor="left", yanchor="middle",
             font=dict(family=SANS, size=19, color=TXT)),
        dict(text=STORM_TITLES[r], x=(LX0 + LX1) / 2 / W, y=py(top - 13), xanchor="center",
             yanchor="middle", font=mono(18)),
        dict(text="Kp, Hp60, Hp30", x=24 / W, y=py(top + 116), textangle=-90, xanchor="center",
             yanchor="middle", font=mono(17)),
        dict(text="Dst (nT)", x=596 / W, y=py(top + 118), textangle=90, xanchor="center",
             yanchor="middle", font=mono(18)),
        dict(text="Time (hr)", x=(LX0 + LX1) / 2 / W, y=py(top + 271), xanchor="center",
             yanchor="middle", font=mono(18)),
        dict(text=RIGHT_LABELS[r], x=SX0 / W, y=py(top - 16), xanchor="left", yanchor="middle",
             font=dict(family=SANS, size=19, color=TXT)),
        dict(text=R_TEXTS[r], x=(SX0 + SX1) / 2 / W, y=py(top - 13), xanchor="center",
             yanchor="middle", font=mono(19)),
        dict(text="3h-mean Hp30", x=642 / W, y=py(top + 113), textangle=-90, xanchor="center",
             yanchor="middle", font=mono(17)),
        dict(text="Kp", x=(SX0 + SX1) / 2 / W, y=py(top + 272), xanchor="center", yanchor="middle",
             font=mono(18)),
    ]

    # legend (inside each time-series panel)
    xr, yr = f"{xl} domain", f"{yl} domain"
    leg = [("Kp", C_KP, 6, "solid", 0.633, 0.906), ("Hp30", C_H30, 1.8, "dash", 0.818, 0.906),
           ("Hp60", C_H60, 1.8, "solid", 0.633, 0.825), ("Dst", C_DST, 4, "solid", 0.818, 0.825)]
    for name, col, wd, dash, lx, ly in leg:
        shapes.append(dict(type="line", xref=xr, yref=yr, x0=lx, x1=lx + 0.071, y0=ly, y1=ly,
                           line=dict(color=col, width=wd, dash=dash)))
        annotations.append(dict(text=name, xref=xr, yref=yr, x=lx + 0.08, y=ly, xanchor="left",
                                yanchor="middle", showarrow=False, font=mono(15)))

for a in annotations:
    a.setdefault("xref", "paper")
    a.setdefault("yref", "paper")
    a["showarrow"] = False

fig.update_layout(**layout)
fig.update_layout(width=W, height=H, margin=dict(l=0, r=0, t=0, b=0), showlegend=False,
                  plot_bgcolor="white", paper_bgcolor="white", annotations=annotations, shapes=shapes)
fig.write_html("out.html", config={"responsive": False},
               post_script="document.body.style.margin='0px';document.body.style.overflow='hidden';")
